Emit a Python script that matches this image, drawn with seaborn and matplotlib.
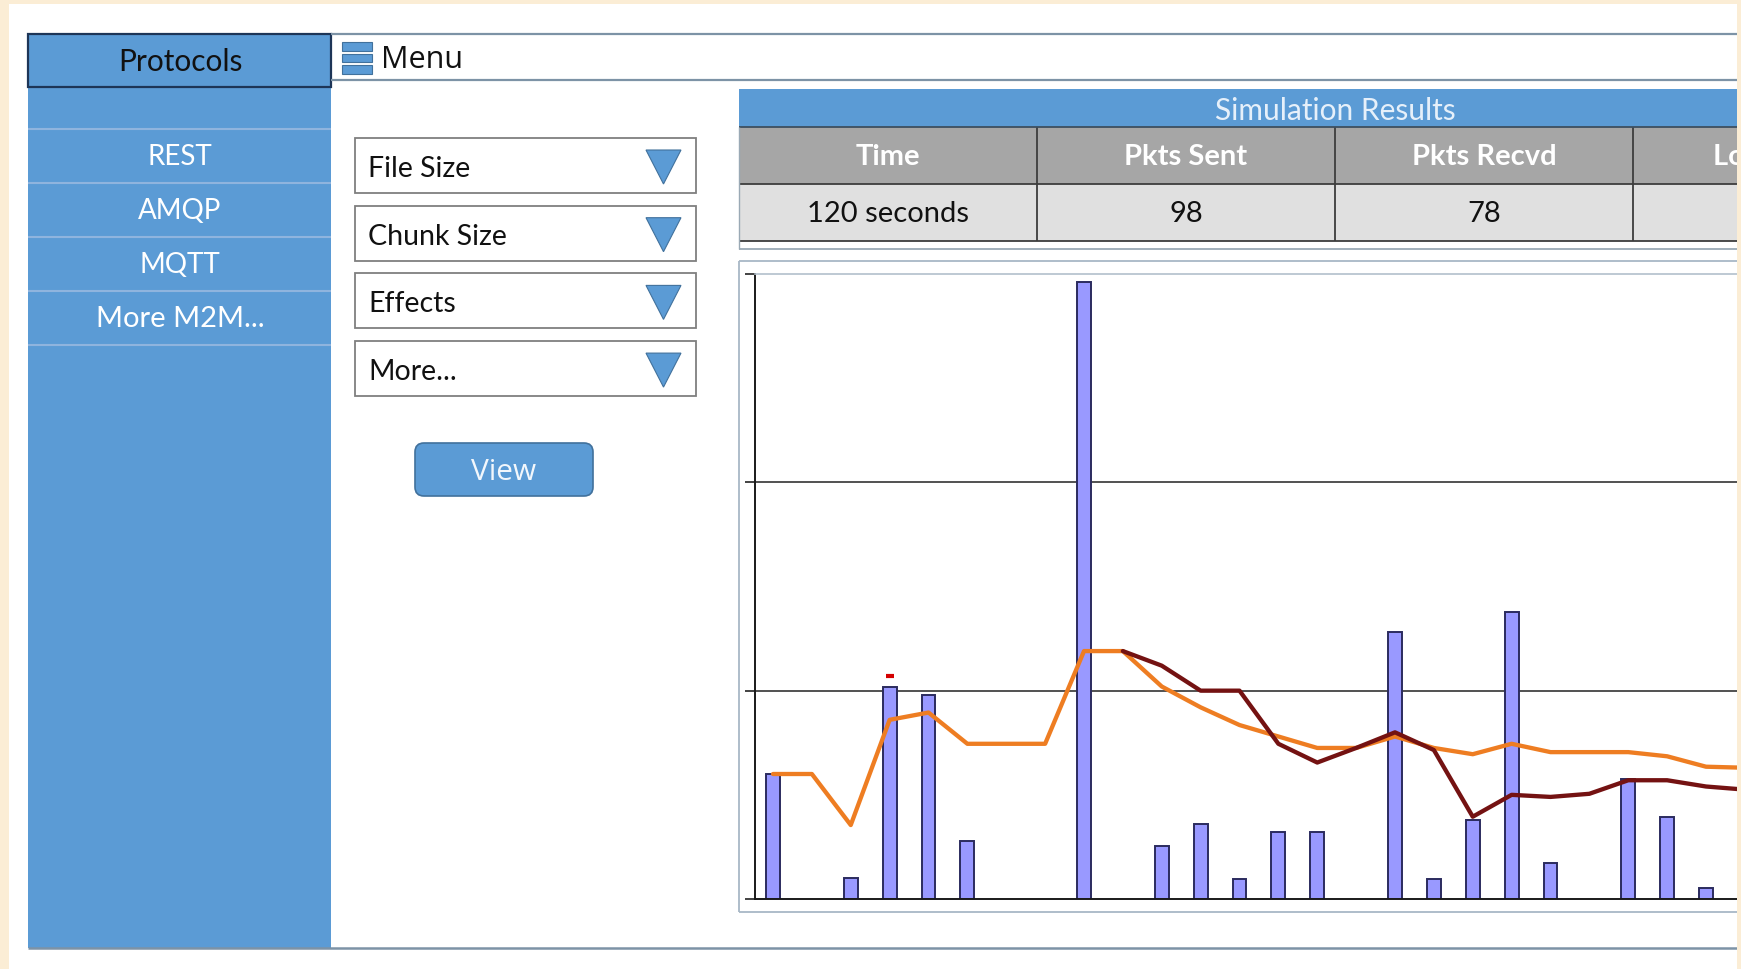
"""
Mock-up of the protocol simulator screen: side menu, option dropdowns,
results table and the packets chart.
"""

import matplotlib.pyplot as plt
from matplotlib.patches import Rectangle, FancyBboxPatch, Polygon
import seaborn as sns

sns.set_style("white")
plt.rcParams["font.family"] = ["Lato", "DejaVu Sans"]

W, H = 1741, 970
BLUE = "#5b9bd5"
BLUE_EDGE = "#41719c"

# ---- data ----
protocols = ["REST", "AMQP", "MQTT", "More M2M..."]
options = ["File Size", "Chunk Size", "Effects", "More..."]
table_title = "Simulation Results"
table_cols = ["Time", "Pkts Sent", "Pkts Recvd", "Lost Pkts"]
table_row = ["120 seconds", "98", "78", ""]

# chart: sample index -> packets per interval
bar_pos = [0, 2, 3, 4, 5, 8, 10, 11, 12, 13, 14, 16, 17, 18, 19, 20, 22, 23, 24, 25]
bar_vals = [12.0, 2.0, 20.4, 19.6, 5.6, 59.2, 5.1, 7.2, 1.9, 6.4, 6.4, 25.6,
            1.9, 7.6, 27.6, 3.5, 11.5, 7.9, 1.1, 7.6]
avg_pos = list(range(26))
avg_vals = [12.0, 12.0, 7.1, 17.2, 17.9, 14.9, 14.9, 14.9, 23.8, 23.8, 20.4,
            18.4, 16.7, 15.6, 14.5, 14.5, 15.6, 14.5, 13.9, 14.9, 14.1, 14.1,
            14.1, 13.7, 12.7, 12.6]
recent_pos = list(range(9, 26))
recent_vals = [23.8, 22.4, 20.0, 20.0, 14.9, 13.1, 14.5, 16.0, 14.3, 7.9, 10.0,
               9.8, 10.1, 11.4, 11.4, 10.8, 10.5]
outlier_pos = [3]
outlier_vals = [21.4]

fig = plt.figure(figsize=(W / 100, H / 100), dpi=100)
fig.patch.set_facecolor("white")

ui = fig.add_axes([0, 0, 1, 1], zorder=0)
ui.set_xlim(0, W)
ui.set_ylim(H, 0)
ui.set_axis_off()


def box(x0, y0, x1, y1, fc="none", ec="none", lw=0, ax=ui):
  ax.add_patch(Rectangle((x0, y0), x1 - x0, y1 - y0, facecolor=fc,
                         edgecolor=ec, linewidth=lw))


def hline(y, x0, x1, color, lw):
  ui.plot([x0, x1], [y, y], color=color, lw=lw, solid_capstyle="butt")


def vline(x, y0, y1, color, lw):
  ui.plot([x, x], [y0, y1], color=color, lw=lw, solid_capstyle="butt")


# side bar
box(28, 35, 331, 949, fc=BLUE)
box(28, 35, 331, 88, fc=BLUE, ec="#1d3557", lw=1.6)
ui.text(180, 62, "Protocols", ha="center", va="center", fontsize=21.5,
        color="#111111")
for i, name in enumerate(protocols):
  top = 130 + i * 54
  hline(top, 28, 331, "#8fb4de", 1.5)
  ui.text(180, top + 27, name, ha="center", va="center",
          fontsize=21 if i == 3 else 20, color="white")
hline(346, 28, 331, "#8fb4de", 1.5)

# menu bar
hline(35, 331, W, "#7d93a6", 1.6)
hline(81, 331, W, "#7d93a6", 1.6)
for y0 in [43, 54.5, 66]:
  box(342, y0, 372, y0 + 8.5, fc=BLUE, ec=BLUE_EDGE, lw=0.8)
ui.text(381, 60, "Menu", ha="left", va="center", fontsize=22,
        family=["Open Sans", "DejaVu Sans"], color="#111111")

# dropdowns
for i, name in enumerate(options):
  top = 139 + i * 67.7
  box(355, top, 696, top + 55, fc="white", ec="#7f7f7f", lw=1.3)
  ui.text(368, top + 30, name, ha="left", va="center", fontsize=20.5,
          color="#111111")
  ui.add_patch(Polygon([[646, top + 12], [681, top + 12], [663.5, top + 46]],
                       closed=True, facecolor=BLUE, edgecolor=BLUE_EDGE,
                       lw=0.8))

# view button
ui.add_patch(FancyBboxPatch((415, 444), 178, 53,
                            boxstyle="round,pad=0,rounding_size=9",
                            facecolor=BLUE, edgecolor=BLUE_EDGE, lw=1.2))
ui.text(504, 473, "View", ha="center", va="center", fontsize=21.5,
        family=["Open Sans", "DejaVu Sans"], color="#f2f7fc")

# bottom line
hline(949, 28, W, "#7d93a6", 1.8)

# results table
col_w = 298
tx0 = 739
box(tx0, 90, tx0 + 4 * col_w, 128, fc=BLUE)
ui.text(tx0 + 2 * col_w, 111, table_title, ha="center", va="center",
        fontsize=21.5, color="#e6f0fa")
box(tx0, 128, tx0 + 4 * col_w, 185, fc="#a6a6a6")
box(tx0, 185, tx0 + 4 * col_w, 242, fc="#e0e0e0")
for j, (col, val) in enumerate(zip(table_cols, table_row)):
  cx = tx0 + j * col_w + col_w / 2
  if j < 3:
    ui.text(cx, 157, col, ha="center", va="center", fontsize=21,
            fontweight="bold", color="white")
  else:
    # last column runs off the screen: only its first letters show
    ui.text(1713, 157, col, ha="left", va="center", fontsize=21,
            fontweight="bold", color="white")
  ui.text(cx, 214, val, ha="center", va="center", fontsize=21,
          color="#111111")
  if j > 0:
    vline(tx0 + j * col_w, 128, 242, "#3d3d3d", 1.3)
hline(128, tx0, W, "#3d4f60", 1.3)
hline(185, tx0, W, "#3d3d3d", 1.3)
hline(242, tx0, W, "#3d3d3d", 1.3)
vline(tx0, 128, 250, "#9aa9b5", 1.0)
hline(250, tx0, W, "#9aa9b5", 1.3)

# chart panel
hline(262, tx0, W, "#a8b8c6", 1.3)
vline(tx0, 262, 913, "#a8b8c6", 1.3)
hline(913, tx0, W, "#a8b8c6", 1.3)

# chart
x0_px, k0_px, step_px = 755, 773, 38.875
top_px, base_px = 275, 900
ax = fig.add_axes([x0_px / W, (H - base_px) / H, (W - x0_px) / W,
                   (base_px - top_px) / H], zorder=1)
ax.patch.set_alpha(0)

sns.barplot(x=bar_pos, y=bar_vals, native_scale=True, width=0.36,
            color="#9999ff", saturation=1, edgecolor="#2b2b5e",
            linewidth=1.4, errorbar=None, ax=ax)
sns.lineplot(x=avg_pos, y=avg_vals, color="#ee7d22", lw=3.1, ax=ax)
sns.lineplot(x=recent_pos, y=recent_vals, color="#741212", lw=3.1, ax=ax)
ax.scatter(outlier_pos, outlier_vals, marker="_", s=40, linewidths=3,
           color="#d40000", zorder=5)

ax.set_xlim((x0_px - k0_px) / step_px, (W - k0_px) / step_px)
ax.set_ylim(0, 60)
ax.set_yticks([0, 20, 40, 60])
ax.set_xticks([])
ax.tick_params(axis="y", direction="out", length=7, width=1.2,
               color="#222222", labelleft=False, left=True)
ax.grid(axis="y", color="#333333", lw=1.2)
ax.set_axisbelow(True)
gl = ax.get_ygridlines()
gl[0].set_visible(False)
gl[-1].set_visible(False)
ax.set_xlabel("")
ax.set_ylabel("")
for side in ["left", "bottom"]:
  ax.spines[side].set_color("#1a1a1a")
  ax.spines[side].set_linewidth(1.4)
ax.spines["top"].set_color("#b3c0cc")
ax.spines["top"].set_linewidth(1.2)
ax.spines["right"].set_visible(False)

# beige frame round the screenshot
frame = fig.add_axes([0, 0, 1, 1], zorder=5)
frame.set_xlim(0, W)
frame.set_ylim(H, 0)
frame.set_axis_off()
frame.patch.set_alpha(0)
beige = "#fbedd5"
box(0, 0, 9, H, fc=beige, ax=frame)
box(1737, 0, W, H, fc=beige, ax=frame)
box(0, 0, W, 5, fc=beige, ax=frame)

fig.savefig("out.png", dpi=100)
